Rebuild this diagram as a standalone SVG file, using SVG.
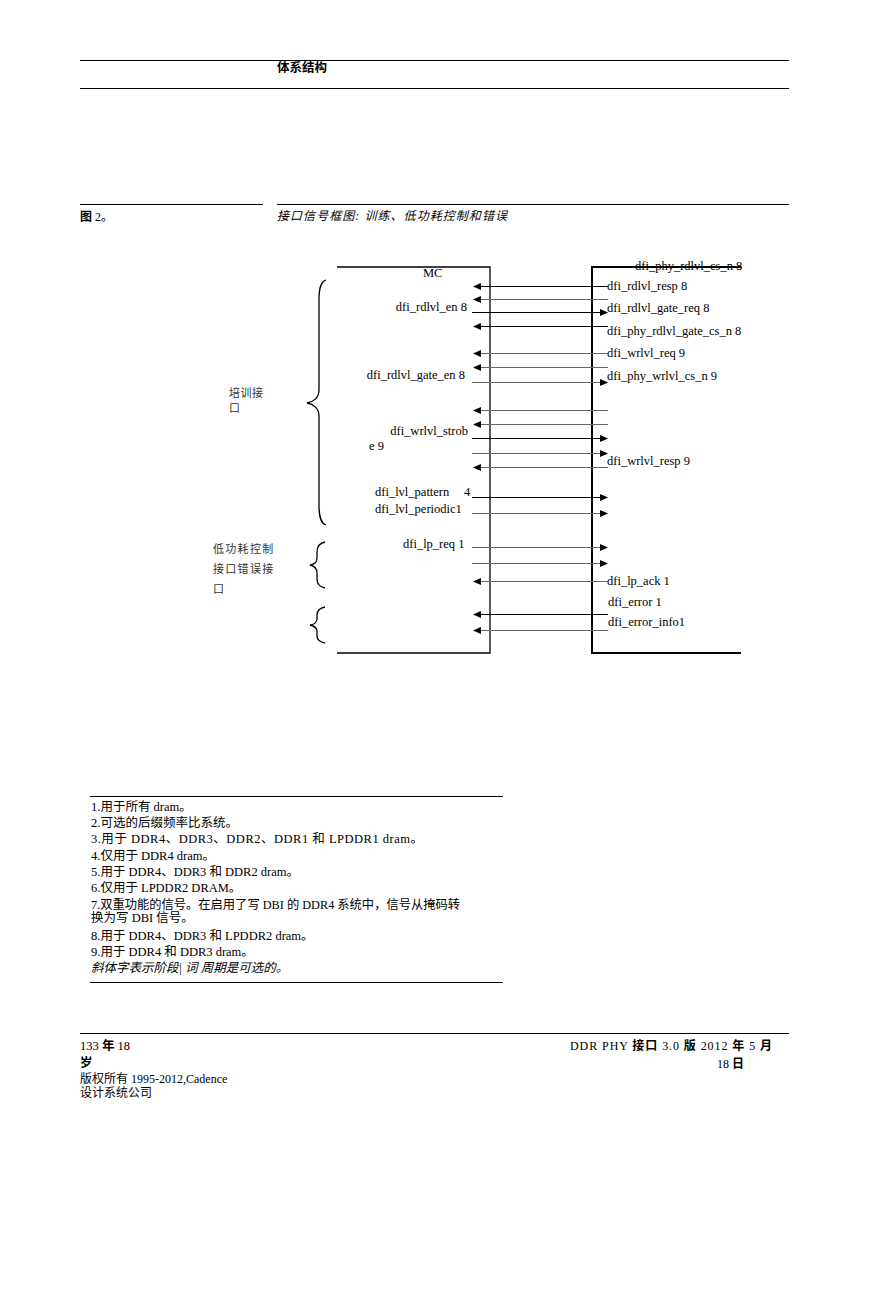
<svg xmlns="http://www.w3.org/2000/svg" width="893" height="1295" viewBox="0 0 893 1295">
<style>
.rule{stroke:#000;stroke-width:1.2;fill:none}
.t{font-family:"Liberation Serif","Noto Sans CJK SC",serif;font-size:12.5px;fill:#000}
.c{font-family:"Noto Sans CJK SC",sans-serif;font-size:11px;fill:#333}
.fn{font-family:"Liberation Serif","Noto Sans CJK SC",serif;font-size:12px;fill:#000}
.fs{font-family:"Liberation Serif","Noto Sans CJK SC",serif;font-size:12.5px;fill:#000}
.b{font-weight:bold;font-family:"Noto Sans CJK SC",sans-serif}
.box{stroke:#000;fill:none}
.brace{stroke:#000;stroke-width:1.3;fill:none}
.ak{stroke:#000;stroke-width:1.2}
.ag{stroke:#666;stroke-width:1}
</style>
<defs>
<marker id="ah" viewBox="0 0 8 8" refX="0" refY="4" markerWidth="8" markerHeight="8" markerUnits="userSpaceOnUse" orient="auto"><path d="M0,0.5 L8,4 L0,7.5 z" fill="#000"/></marker>
</defs>
<rect width="893" height="1295" fill="#fff"/>
<g id="header">
<line class="rule" x1="80" y1="60.5" x2="789" y2="60.5"/>
<text x="277" y="72" class="b" font-size="12.5">体系结构</text>
<line class="rule" x1="80" y1="88.5" x2="789" y2="88.5"/>
</g>
<g id="caption">
<line class="rule" x1="80" y1="204.5" x2="263" y2="204.5"/>
<line class="rule" x1="277" y1="204.5" x2="789" y2="204.5"/>
<text x="80" y="221" class="fn"><tspan class="b">图</tspan> 2。</text>
<text x="277" y="220" class="fn" font-style="italic" font-size="12.5" textLength="230" lengthAdjust="spacing">接口信号框图: 训练、低功耗控制和错误</text>
</g>
<g id="mc">
<polyline class="box" stroke-width="1.3" points="337,267 490,267 490,653 337,653"/>
<text x="423" y="277" class="t">MC</text>
<text x="467" y="311" class="t" text-anchor="end">dfi_rdlvl_en 8</text>
<text x="465" y="379" class="t" text-anchor="end">dfi_rdlvl_gate_en 8</text>
<text x="468" y="435" class="t" text-anchor="end">dfi_wrlvl_strob</text>
<text x="369" y="450" class="t">e 9</text>
<text x="375" y="496" class="t">dfi_lvl_pattern</text>
<text x="464" y="496" class="t">4</text>
<text x="375" y="513" class="t">dfi_lvl_periodic1</text>
<text x="403" y="548" class="t">dfi_lp_req 1</text>
</g>
<g id="phy">
<polyline class="box" stroke-width="2" points="741,267 592,267 592,653 741,653"/>
<text x="635" y="270" class="t">dfi_phy_rdlvl_cs_n 8</text>
<text x="607" y="290" class="t">dfi_rdlvl_resp 8</text>
<text x="607" y="312" class="t">dfi_rdlvl_gate_req 8</text>
<text x="607" y="335" class="t">dfi_phy_rdlvl_gate_cs_n 8</text>
<text x="607" y="357" class="t">dfi_wrlvl_req 9</text>
<text x="607" y="380" class="t">dfi_phy_wrlvl_cs_n 9</text>
<text x="607" y="465" class="t">dfi_wrlvl_resp 9</text>
<text x="607" y="585" class="t">dfi_lp_ack 1</text>
<text x="608" y="606" class="t">dfi_error 1</text>
<text x="608" y="626" class="t">dfi_error_info1</text>
</g>
<g id="training-group">
<path class="brace" d="M326,280 C320,282 319,290 319,300 L319,390 C319,398 313,402 307,403 C313,404 319,408 319,416 L319,505 C319,515 320,523 326,525"/>
<text x="229" y="397" class="c" letter-spacing="0.5">培训接</text>
<text x="229" y="412" class="c">口</text>
</g>
<g id="lowpower-group">
<path class="brace" d="M325,542 C320,543 317,547 317,552 L317,558 C317,562 314,565 310,565 C314,566 317,569 317,573 L317,579 C317,584 320,587 325,588"/>
<text x="213" y="553" class="c" letter-spacing="1.3">低功耗控制</text>
<text x="213" y="573" class="c" letter-spacing="1.3">接口错误接</text>
<text x="213" y="593" class="c">口</text>
</g>
<g id="error-group">
<path class="brace" d="M325,607 C320,608 317,611 317,615 L317,619 C317,622 314,625 310,625 C314,626 317,628 317,631 L317,636 C317,640 320,642 325,643"/>
</g>
<g id="connectors">
<line class="ak" x1="608" y1="286.5" x2="481" y2="286.5" marker-end="url(#ah)"/>
<line class="ag" x1="608" y1="299.5" x2="481" y2="299.5" marker-end="url(#ah)"/>
<line class="ak" x1="472" y1="312.5" x2="600" y2="312.5" marker-end="url(#ah)"/>
<line class="ak" x1="608" y1="326.5" x2="481" y2="326.5" marker-end="url(#ah)"/>
<line class="ag" x1="608" y1="353.5" x2="481" y2="353.5" marker-end="url(#ah)"/>
<line class="ag" x1="608" y1="367.5" x2="481" y2="367.5" marker-end="url(#ah)"/>
<line class="ag" x1="472" y1="382.5" x2="600" y2="382.5" marker-end="url(#ah)"/>
<line class="ag" x1="608" y1="410.5" x2="481" y2="410.5" marker-end="url(#ah)"/>
<line class="ag" x1="608" y1="424.5" x2="481" y2="424.5" marker-end="url(#ah)"/>
<line class="ak" x1="472" y1="438.5" x2="600" y2="438.5" marker-end="url(#ah)"/>
<line class="ag" x1="472" y1="453.5" x2="600" y2="453.5" marker-end="url(#ah)"/>
<line class="ag" x1="608" y1="467.5" x2="481" y2="467.5" marker-end="url(#ah)"/>
<line class="ak" x1="472" y1="497.5" x2="600" y2="497.5" marker-end="url(#ah)"/>
<line class="ag" x1="472" y1="513.5" x2="600" y2="513.5" marker-end="url(#ah)"/>
<line class="ag" x1="472" y1="547.5" x2="600" y2="547.5" marker-end="url(#ah)"/>
<line class="ag" x1="472" y1="563.5" x2="600" y2="563.5" marker-end="url(#ah)"/>
<line class="ag" x1="608" y1="581.5" x2="481" y2="581.5" marker-end="url(#ah)"/>
<line class="ak" x1="608" y1="614.5" x2="481" y2="614.5" marker-end="url(#ah)"/>
<line class="ag" x1="608" y1="630.5" x2="481" y2="630.5" marker-end="url(#ah)"/>
</g>
<g id="footnotes">
<line class="rule" x1="90" y1="796.5" x2="503" y2="796.5"/>
<text x="91" y="811" class="fs">1.用于所有 dram。</text>
<text x="91" y="827" class="fs">2.可选的后缀频率比系统。</text>
<text x="91" y="843" class="fs" textLength="332" lengthAdjust="spacing">3.用于 DDR4、DDR3、DDR2、DDR1 和 LPDDR1 dram。</text>
<text x="91" y="860" class="fs">4.仅用于 DDR4 dram。</text>
<text x="91" y="876" class="fs">5.用于 DDR4、DDR3 和 DDR2 dram。</text>
<text x="91" y="892" class="fs">6.仅用于 LPDDR2 DRAM。</text>
<text x="91" y="909" class="fs" textLength="369" lengthAdjust="spacingAndGlyphs">7.双重功能的信号。在启用了写 DBI 的 DDR4 系统中，信号从掩码转</text>
<text x="91" y="922" class="fs">换为写 DBI 信号。</text>
<text x="91" y="940" class="fs">8.用于 DDR4、DDR3 和 LPDDR2 dram。</text>
<text x="91" y="956" class="fs">9.用于 DDR4 和 DDR3 dram。</text>
<text x="91" y="972" class="fs" font-style="italic">斜体字表示阶段| 词 周期是可选的。</text>
<line class="rule" x1="90" y1="982.5" x2="503" y2="982.5"/>
</g>
<g id="footer">
<line class="rule" x1="80" y1="1033.5" x2="789" y2="1033.5"/>
<text x="80" y="1050" class="fs">133 <tspan class="b">年</tspan> 18</text>
<text x="80" y="1067" class="fs"><tspan class="b">岁</tspan></text>
<text x="80" y="1083" class="fn">版权所有 1995-2012,Cadence</text>
<text x="80" y="1097" class="fn">设计系统公司</text>
<text x="570" y="1050" class="fn" font-size="12.2" textLength="202" lengthAdjust="spacing">DDR PHY <tspan class="b">接口</tspan> 3.0 <tspan class="b">版</tspan> 2012 <tspan class="b">年</tspan> 5 <tspan class="b">月</tspan></text>
<text x="744" y="1068" class="fn" font-size="12.2" text-anchor="end">18 <tspan class="b">日</tspan></text>
</g>
</svg>
